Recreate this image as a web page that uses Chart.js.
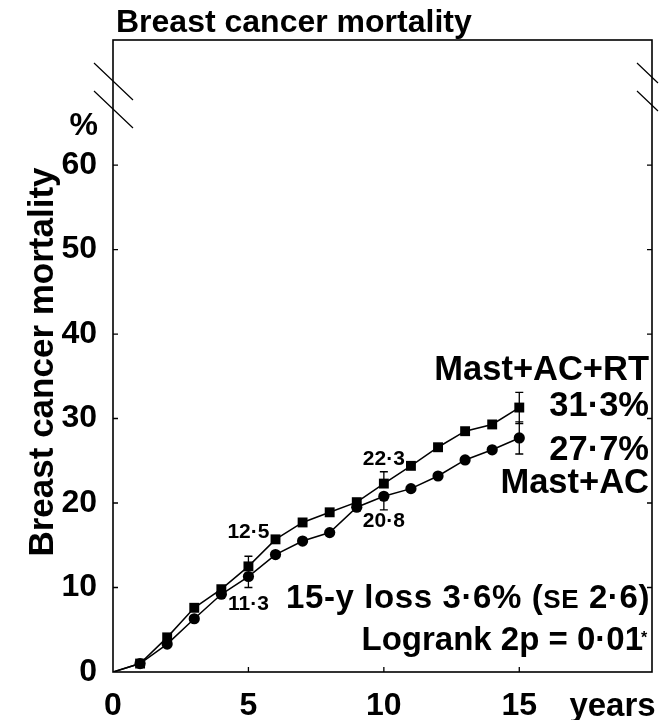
<!DOCTYPE html>
<html>
<head>
<meta charset="utf-8">
<script src="https://cdn.jsdelivr.net/npm/chart.js@4.4.0/dist/chart.umd.min.js"></script>
<style>
  html, body { margin: 0; padding: 0; background: #fff; }
</style>
</head>
<body>
<canvas id="chart" width="659" height="720"></canvas>
<script>
// Data (cumulative breast cancer mortality, %)
const years = [0, 1, 2, 3, 4, 5, 6, 7, 8, 9, 10, 11, 12, 13, 14, 15];
const mastAcRt = [0, 1.0, 4.1, 7.6, 9.8, 12.5, 15.7, 17.7, 18.9, 20.1, 22.3, 24.4, 26.6, 28.5, 29.3, 31.3];
const mastAc = [0, 1.0, 3.3, 6.3, 9.2, 11.3, 13.9, 15.5, 16.5, 19.5, 20.8, 21.7, 23.2, 25.1, 26.3, 27.7];

// Error bars (only the outer half is visible at 5 and 10 years)
const errYears = [5, 10, 15];
const mastAcRtErrHi = [13.7, 23.7, 33.1];
const mastAcRtErrLo = [null, null, 29.4];
const mastAcErrHi = [null, null, 29.6];
const mastAcErrLo = [10.0, 19.2, 25.8];

// Value labels next to the curves
const labelYears = [5, 5, 10, 10];
const labelTexts = ['12·5', '11·3', '22·3', '20·8'];
const labelValues = [15.9, 7.3, 24.5, 17.2];

const xTicks = [0, 5, 10, 15];
const yTicks = [0, 10, 20, 30, 40, 50, 60];

const FONT = '"Liberation Sans", Arial, Helvetica, sans-serif';

function toPoints(values) {
  return years.map((y, i) => ({ x: y, y: values[i] }));
}

// no marker at the origin
function radii(r) {
  return years.map(y => (y === 0 ? 0 : r));
}

// Frame, inward ticks, break marks, error bars and all the texts
const decorations = {
  id: 'decorations',
  afterDatasetsDraw(chart) {
    const ctx = chart.ctx;
    const xs = chart.scales.x;
    const ys = chart.scales.y;
    ctx.save();
    ctx.strokeStyle = '#000';
    ctx.lineWidth = 1.3;
    errYears.forEach((yr, i) => {
      const x = xs.getPixelForValue(yr);
      const k = years.indexOf(yr);
      const bars = [
        [mastAcRt[k], mastAcRtErrHi[i]],
        [mastAcRt[k], mastAcRtErrLo[i]],
        [mastAc[k], mastAcErrHi[i]],
        [mastAc[k], mastAcErrLo[i]]
      ];
      bars.forEach(([from, to]) => {
        if (to === null) return;
        const y0 = ys.getPixelForValue(from);
        const y1 = ys.getPixelForValue(to);
        ctx.beginPath();
        ctx.moveTo(x, y0);
        ctx.lineTo(x, y1);
        ctx.moveTo(x - 4, y1);
        ctx.lineTo(x + 4, y1);
        ctx.stroke();
      });
    });
    ctx.restore();
  },
  afterDraw(chart) {
    const ctx = chart.ctx;
    const area = chart.chartArea;
    const xs = chart.scales.x;
    const ys = chart.scales.y;
    ctx.save();
    ctx.strokeStyle = '#000';
    ctx.lineWidth = 1.6;
    ctx.strokeRect(area.left, area.top, area.right - area.left, area.bottom - area.top);

    // inward ticks
    ctx.lineWidth = 1.3;
    ctx.beginPath();
    yTicks.forEach(v => {
      if (v === 0) return;
      const y = ys.getPixelForValue(v);
      ctx.moveTo(area.left, y);
      ctx.lineTo(area.left + 5, y);
      ctx.moveTo(area.right, y);
      ctx.lineTo(area.right - 5, y);
    });
    xTicks.forEach(v => {
      if (v === 0) return;
      const x = xs.getPixelForValue(v);
      ctx.moveTo(x, area.bottom);
      ctx.lineTo(x, area.bottom - 5);
    });
    ctx.stroke();

    // axis break marks
    ctx.lineWidth = 1.2;
    ctx.beginPath();
    [23, 51].forEach(dy => {
      ctx.moveTo(area.left - 19, area.top + dy);
      ctx.lineTo(area.left + 20, area.top + dy + 37);
      ctx.moveTo(area.right - 15, area.top + dy);
      ctx.lineTo(area.right + 6, area.top + dy + 20);
    });
    ctx.stroke();

    ctx.fillStyle = '#000';
    ctx.textBaseline = 'alphabetic';

    // title
    ctx.font = 'bold 32px ' + FONT;
    ctx.textAlign = 'left';
    ctx.fillText('Breast cancer mortality', area.left + 3, area.top - 8);

    // y axis title
    ctx.save();
    ctx.translate(53, (area.top + area.bottom) / 2 + 6);
    ctx.rotate(-Math.PI / 2);
    ctx.textAlign = 'center';
    ctx.font = 'bold 35px ' + FONT;
    ctx.fillText('Breast cancer mortality', 0, 0);
    ctx.restore();

    // % unit and years
    ctx.font = 'bold 32px ' + FONT;
    ctx.textAlign = 'right';
    ctx.fillText('%', area.left - 15, ys.getPixelForValue(63.6));
    ctx.font = 'bold 33px ' + FONT;
    ctx.textAlign = 'left';
    ctx.fillText('years', xs.getPixelForValue(16.85), area.bottom + 44);

    // series labels
    const right = area.right - 3;
    ctx.textAlign = 'right';
    ctx.font = 'bold 34.5px ' + FONT;
    ctx.fillText('Mast+AC+RT', right, ys.getPixelForValue(34.6));
    ctx.fillText('31·3%', right, ys.getPixelForValue(30.3));
    ctx.fillText('27·7%', right, ys.getPixelForValue(25.1));
    ctx.fillText('Mast+AC', right, ys.getPixelForValue(21.2));

    // values at 5 and 10 years
    ctx.font = 'bold 21px ' + FONT;
    ctx.textAlign = 'center';
    labelTexts.forEach((t, i) => {
      ctx.fillText(t, xs.getPixelForValue(labelYears[i]), ys.getPixelForValue(labelValues[i]));
    });

    // loss and logrank
    const big = 'bold 33px ' + FONT;
    const small = 'bold 26px ' + FONT;
    const parts = [['15-y loss 3·6% (', big], ['SE', small], [' 2·6)', big]];
    ctx.letterSpacing = '0.6px';
    let width = 0;
    parts.forEach(([t, f]) => { ctx.font = f; width += ctx.measureText(t).width; });
    let x = right - width + 1;
    ctx.textAlign = 'left';
    parts.forEach(([t, f]) => {
      ctx.font = f;
      ctx.fillText(t, x, ys.getPixelForValue(7.6));
      x += ctx.measureText(t).width;
    });
    ctx.letterSpacing = '0px';
    ctx.font = big;
    ctx.textAlign = 'right';
    ctx.fillText('Logrank 2p = 0·01', right - 6, ys.getPixelForValue(2.6));
    ctx.font = 'bold 16px ' + FONT;
    ctx.textAlign = 'left';
    ctx.fillText('*', right - 8, ys.getPixelForValue(3.6) + 1);
    ctx.restore();
  }
};

const ctx = document.getElementById('chart');

new Chart(ctx, {
  type: 'line',
  data: {
    datasets: [
      {
        label: 'Mast+AC+RT',
        data: toPoints(mastAcRt),
        borderColor: '#000',
        backgroundColor: '#000',
        borderWidth: 1.5,
        pointStyle: 'rect',
        pointRadius: radii(7),
        pointBorderWidth: 0,
        tension: 0
      },
      {
        label: 'Mast+AC',
        data: toPoints(mastAc),
        borderColor: '#000',
        backgroundColor: '#000',
        borderWidth: 1.5,
        pointStyle: 'circle',
        pointRadius: radii(5.6),
        pointBorderWidth: 0,
        tension: 0
      }
    ]
  },
  options: {
    responsive: false,
    animation: false,
    devicePixelRatio: 1,
    layout: {
      padding: { top: 40, right: 4, left: 0, bottom: 0 }
    },
    plugins: {
      legend: { display: false },
      tooltip: { enabled: false }
    },
    scales: {
      x: {
        type: 'linear',
        min: 0,
        max: 19.9,
        afterBuildTicks: scale => { scale.ticks = xTicks.map(v => ({ value: v })); },
        afterFit: scale => { scale.height = 48; },
        grid: { display: false, drawTicks: false },
        border: { display: false },
        ticks: {
          color: '#000',
          padding: 15,
          maxRotation: 0,
          font: { family: FONT, weight: 'bold', size: 32 }
        }
      },
      y: {
        min: 0,
        max: 74.8,
        afterBuildTicks: scale => { scale.ticks = yTicks.map(v => ({ value: v })); },
        afterFit: scale => { scale.width = 113; },
        grid: { display: false, drawTicks: false },
        border: { display: false },
        ticks: {
          color: '#000',
          padding: 16,
          font: { family: FONT, weight: 'bold', size: 32 }
        }
      }
    }
  },
  plugins: [decorations]
});
</script>
</body>
</html>
